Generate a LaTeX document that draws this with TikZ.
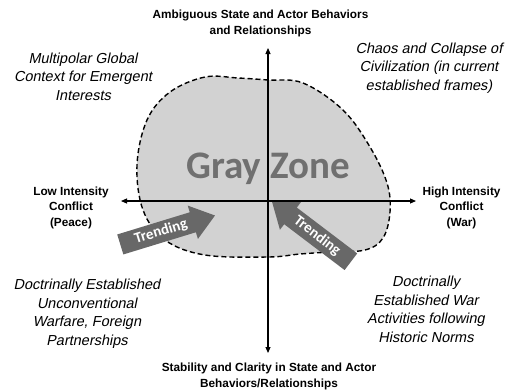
\documentclass[tikz,border=0pt]{standalone}
\usepackage{fontspec}
\setmainfont{Liberation Sans}
\newfontfamily\slantfont{Liberation Sans}[FakeSlant=0.2]
\newfontfamily\zonefont{Carlito}
\usetikzlibrary{arrows.meta,shapes.arrows}
\definecolor{zonefill}{RGB}{210,210,210}
\definecolor{zonetext}{RGB}{112,112,112}
\definecolor{trendfill}{RGB}{104,104,104}

\begin{document}
\begin{tikzpicture}[x=1pt,y=-1pt,
  axis/.style={line width=1.1pt,{Triangle[length=6pt,width=5pt]}-{Triangle[length=6pt,width=5pt]}},
  axislabel/.style={font=\bfseries\fontsize{11.8}{15.5}\selectfont,align=center,inner sep=0pt},
  quadlabel/.style={font=\slantfont\fontsize{14.5}{18.5}\selectfont,align=center,inner sep=0pt},
  trend/.style={single arrow,fill=trendfill,text=white,
    font=\zonefont\bfseries\fontsize{15}{15}\selectfont,
    single arrow head extend=7pt,single arrow tip angle=74,minimum height=99pt,
    text height=10.5pt,text depth=3pt,inner ysep=3.5pt,inner xsep=0pt}]
  \useasboundingbox (0,0) rectangle (513,391);
  % the gray zone
  \draw[fill=zonefill,line width=1.4pt,dash pattern=on 5pt off 3pt]
    plot[smooth cycle,tension=0.6] coordinates {(268,80) (303,83) (343,110) (370,147)
      (387,183) (390,212) (383,238) (365,250) (330,252) (300,254) (268,257) (205,255)
      (165,240) (143,210) (137,165) (147,120) (170,92) (205,77) (238,78)};
  \node[font=\zonefont\bfseries\fontsize{39}{39}\selectfont,text=zonetext,anchor=base,inner sep=0pt]
    (zone) at (268,178) {Gray Zone};
  \node[trend,rotate=17] (trendL) at (161,232) {Trending};
  \node[trend,rotate=-37.2,shape border rotate=180] (trendR) at (317,236) {Trending};
  % axes
  \coordinate (north) at (268,48);
  \coordinate (south) at (268,353);
  \coordinate (west) at (121,201);
  \coordinate (east) at (416,201);
  \draw[axis] (south) -- (north);
  \draw[axis] (west) -- (east);
  \node[axislabel] (ambig) at (260.5,23.5) {Ambiguous State and Actor Behaviors\\and Relationships};
  \node[axislabel] (stable) at (269,376.5) {Stability and Clarity in State and Actor\\Behaviors/Relationships};
  \node[axislabel] (low) at (71,207.5) {Low Intensity\\Conflict\\(Peace)};
  \node[axislabel] (high) at (461.5,207.5) {High Intensity\\Conflict\\(War)};
  % quadrants
  \node[quadlabel] (multi) at (83,76.5) {Multipolar Global\\Context for Emergent\\Interests};
  \node[quadlabel] (chaos) at (429,67.8) {Chaos and Collapse of\\Civilization (in current\\established frames)};
  \node[quadlabel] (unconv) at (87,313.8) {Doctrinally Established\\Unconventional\\Warfare, Foreign\\Partnerships};
  \node[quadlabel] (war) at (426,309.3) {Doctrinally\\Established War\\Activities following\\Historic Norms};
\end{tikzpicture}
\end{document}
